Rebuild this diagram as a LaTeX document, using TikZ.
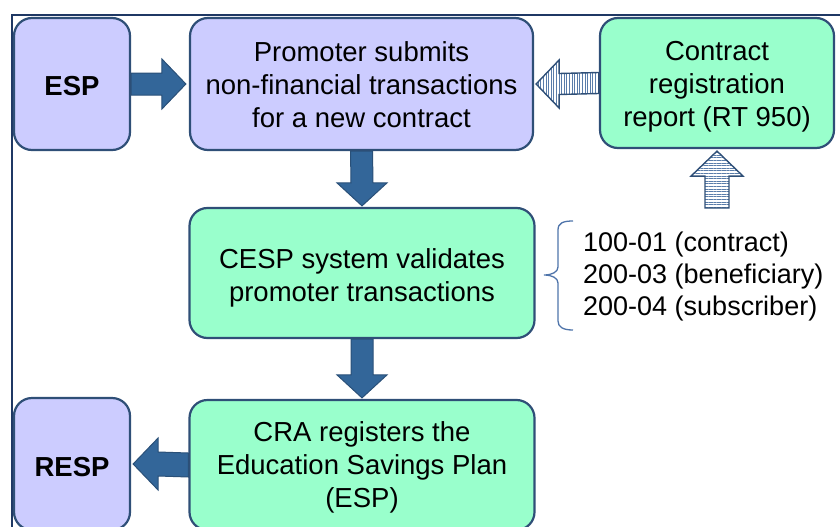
\documentclass[tikz,border=0pt]{standalone}
\usepackage{fontspec}
\setmainfont{Liberation Sans}
\usetikzlibrary{calc,patterns.meta}
\definecolor{purp}{HTML}{CCCCFF}
\definecolor{grn}{HTML}{99FFCC}
\definecolor{bord}{HTML}{2F4F77}
\definecolor{arrowc}{HTML}{336699}
\definecolor{arrowb}{HTML}{2A5078}
\definecolor{framec}{HTML}{1F3864}
\definecolor{stripe}{HTML}{5A7DAA}
\definecolor{bracec}{HTML}{4F74AA}
\begin{document}
\begin{tikzpicture}[x=1pt,y=-1pt,
  box/.style={draw=bord, line width=2.2pt, rounded corners=18pt, inner sep=0pt},
  txt/.style={align=center, font=\fontsize{27.5}{33}\selectfont, inner sep=0pt},
  btxt/.style={txt, font=\fontsize{27.5}{33}\selectfont\bfseries},
  barrow/.style={fill=arrowc, draw=arrowb, line width=1pt, line join=miter},
  sarrow/.style={preaction={fill=white}, pattern={Lines[angle=90,distance=2.6pt,line width=0.8pt]},
    pattern color=stripe, draw=bord, line width=1.4pt, line join=miter},
  sarrowh/.style={preaction={fill=white}, pattern={Lines[angle=0,distance=2.6pt,line width=0.8pt]},
    pattern color=stripe, draw=bord, line width=1.4pt, line join=miter}]
\useasboundingbox (0,0) rectangle (840,527);
\clip (0,0) rectangle (840,527);
\draw[framec, line width=2pt] (12,530) -- (12,15) -- (842,15);

\node[box, fill=purp, minimum width=116pt, minimum height=132pt] (esp) at (72,84) {};
\node[box, fill=purp, minimum width=343pt, minimum height=132pt] (prom) at (361.5,84) {};
\node[box, fill=grn, minimum width=234pt, minimum height=130pt] (contract) at (717,83) {};
\node[box, fill=grn, minimum width=345pt, minimum height=130pt] (cesp) at (362,273) {};
\node[box, fill=grn, minimum width=345pt, minimum height=130pt] (cra) at (362,465) {};
\node[box, fill=purp, minimum width=116pt, minimum height=132pt] (resp) at (72,464) {};

\node[btxt] (esp-t) at ($(esp.center)+(0,2)$) {ESP};
\node[txt] (prom-t) at ($(prom.center)+(0,1)$) {Promoter submits\\non-financial transactions\\for a new contract};
\node[txt] (contract-t) at ($(contract.center)+(0,4)$) {Contract\\registration\\report (RT 950)};
\node[txt] (cesp-t) at ($(cesp.center)+(0,5)$) {CESP system validates\\promoter transactions};
\node[txt] (cra-t) at ($(cra.center)+(0,2)$) {CRA registers the\\Education Savings Plan\\(ESP)};
\node[btxt] (resp-t) at ($(resp.center)+(0,3)$) {RESP};

% ESP -> Promoter
\draw[barrow] ($(esp.east)+(0,-11)$) -- ($(prom.west)+(-27,-11)$) -- ($(prom.west)+(-27,-25)$)
  -- ($(prom.west)+(-3,0)$) -- ($(prom.west)+(-27,25)$) -- ($(prom.west)+(-27,11)$)
  -- ($(esp.east)+(0,11)$) -- cycle;
% Promoter -> CESP
\draw[barrow] ($(prom.south)+(-11,0)$) -- ($(cesp.north)+(-11,-24)$) -- ($(cesp.north)+(-25,-24)$)
  -- ($(cesp.north)+(0,-1)$) -- ($(cesp.north)+(25,-24)$) -- ($(cesp.north)+(11,-24)$)
  -- ($(prom.south)+(11,0)$) -- cycle;
% CESP -> CRA
\draw[barrow] ($(cesp.south)+(-11,0)$) -- ($(cra.north)+(-11,-24)$) -- ($(cra.north)+(-25,-24)$)
  -- ($(cra.north)+(0,-1)$) -- ($(cra.north)+(25,-24)$) -- ($(cra.north)+(11,-24)$)
  -- ($(cesp.south)+(11,0)$) -- cycle;
% CRA -> RESP
\draw[barrow] ($(cra.west)+(0,-12)$) -- ($(resp.east)+(27,-12)$) -- ($(resp.east)+(27,-26)$)
  -- ($(resp.east)+(2,0)$) -- ($(resp.east)+(27,26)$) -- ($(resp.east)+(27,12)$)
  -- ($(cra.west)+(0,12)$) -- cycle;
% Contract -> Promoter (striped)
\draw[sarrow] ($(contract.west)+(0,-10.5)$) -- ($(prom.east)+(25,-10.5)$) -- ($(prom.east)+(25,-24)$)
  -- ($(prom.east)+(2,0)$) -- ($(prom.east)+(25,24)$) -- ($(prom.east)+(25,10.5)$)
  -- ($(contract.west)+(0,10.5)$) -- cycle;
% Up striped arrow
\coordinate (upt) at (717,208);
\draw[sarrowh] ($(upt)+(-12,0)$) -- ($(contract.south)+(-12,27)$) -- ($(contract.south)+(-26,27)$)
  -- ($(contract.south)+(0,2)$) -- ($(contract.south)+(26,27)$) -- ($(contract.south)+(12,27)$)
  -- ($(upt)+(12,0)$) -- cycle;

% Brace and list
\node[anchor=west, align=left, inner sep=0pt, font=\fontsize{27}{32}\selectfont] (lst) at (583,277)
  {100-01 (contract)\\200-03 (beneficiary)\\200-04 (subscriber)};
\coordinate (bt) at (573,221);
\coordinate (bb) at (573,330);
\draw[bracec, line width=1.3pt]
  (bt) .. controls (563,221) and (558,223) .. (558,230) -- (558,267)
  .. controls (558,272) and (552,275) .. (544,275)
  .. controls (552,275) and (558,278) .. (558,283) -- (558,321)
  .. controls (558,327) and (563,330) .. (bb);
\end{tikzpicture}
\end{document}
